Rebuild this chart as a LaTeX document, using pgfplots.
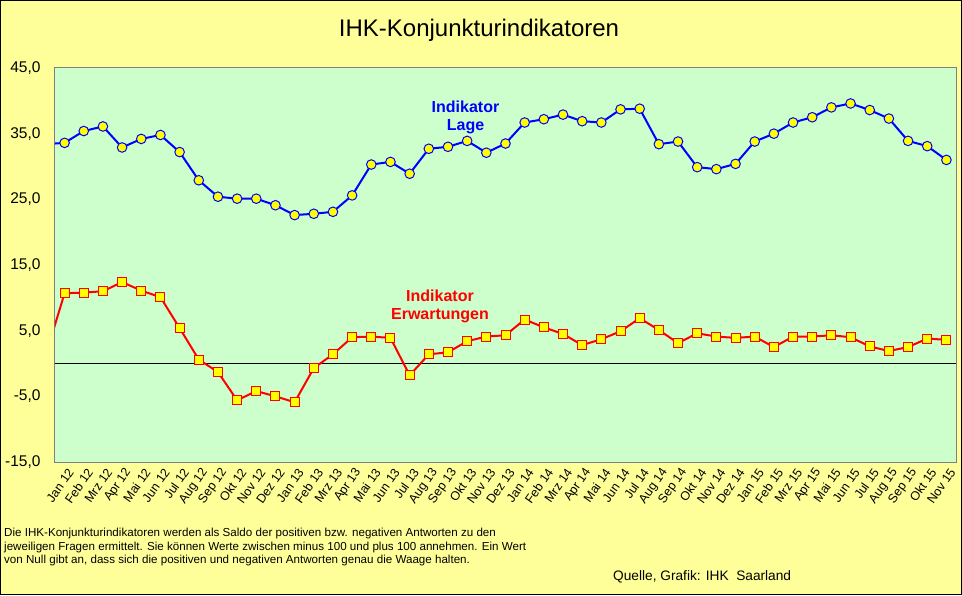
\documentclass[border=0pt]{standalone}
\usepackage{pgfplots}
\pgfplotsset{compat=1.18}
\usepackage{fontspec}
\setmainfont{Liberation Sans}
\definecolor{bgy}{HTML}{FFFF99}
\definecolor{plotg}{HTML}{CCFFCC}
\definecolor{mky}{HTML}{FFFF00}
\definecolor{axgray}{HTML}{808080}

\pgfplotstableread{
x y
-1 33.4
0 33.6
1 35.4
2 36.1
3 32.9
4 34.2
5 34.8
6 32.2
7 27.9
8 25.4
9 25.1
10 25.1
11 24.1
12 22.6
13 22.8
14 23.1
15 25.6
16 30.3
17 30.7
18 28.9
19 32.7
20 33.0
21 33.9
22 32.1
23 33.5
24 36.7
25 37.2
26 37.9
27 36.9
28 36.7
29 38.7
30 38.8
31 33.4
32 33.8
33 29.9
34 29.6
35 30.4
36 33.8
37 35.0
38 36.7
39 37.5
40 39.0
41 39.6
42 38.6
43 37.3
44 33.9
45 33.1
46 31.0
}\lage

\pgfplotstableread{
x y
-1 1.1
0 10.7
1 10.8
2 11.0
3 12.4
4 11.1
5 10.1
6 5.4
7 0.6
8 -1.3
9 -5.6
10 -4.2
11 -5.0
12 -5.9
13 -0.7
14 1.4
15 4.0
16 4.1
17 3.9
18 -1.8
19 1.4
20 1.7
21 3.4
22 4.1
23 4.3
24 6.7
25 5.5
26 4.5
27 2.8
28 3.7
29 4.9
30 6.9
31 5.1
32 3.1
33 4.6
34 4.1
35 3.9
36 4.1
37 2.5
38 4.1
39 4.1
40 4.3
41 4.0
42 2.6
43 1.9
44 2.5
45 3.8
46 3.6
}\erw

\begin{document}
\begin{tikzpicture}
\fill[bgy] (0,0) rectangle (962pt,595pt);
\draw[black,line width=1pt] (0.5pt,0.5pt) rectangle (961.5pt,594.5pt);
\begin{axis}[
  at={(55pt,133pt)}, anchor=south west,
  scale only axis, width=901pt, height=394pt,
  xmin=-0.5, xmax=46.5, ymin=-15, ymax=45,
  axis background/.style={fill=plotg},
  axis line style={draw=axgray, line width=1pt},
  major tick length=0pt,
  ytick={-15,-5,5,15,25,35,45},
  /pgf/number format/assume math mode=true,
  yticklabel style={font=\fontsize{15.5}{16}\selectfont, xshift=-11pt,
    /pgf/number format/fixed, /pgf/number format/fixed zerofill,
    /pgf/number format/precision=1, /pgf/number format/use comma},
  xtick={0,...,46},
  xticklabels={Jan 12,Feb 12,Mrz 12,Apr 12,Mai 12,Jun 12,Jul 12,Aug 12,Sep 12,Okt 12,Nov 12,Dez 12,
    Jan 13,Feb 13,Mrz 13,Apr 13,Mai 13,Jun 13,Jul 13,Aug 13,Sep 13,Okt 13,Nov 13,Dez 13,
    Jan 14,Feb 14,Mrz 14,Apr 14,Mai 14,Jun 14,Jul 14,Aug 14,Sep 14,Okt 14,Nov 14,Dez 14,
    Jan 15,Feb 15,Mrz 15,Apr 15,Mai 15,Jun 15,Jul 15,Aug 15,Sep 15,Okt 15,Nov 15},
  xticklabel style={font=\fontsize{12.5}{12.5}\selectfont, anchor=east, inner sep=1pt, xshift=7pt, yshift=-7pt, rotate=55},
]
\addplot[black, line width=1pt, forget plot] coordinates {(-0.5,0) (46.5,0)};
\addplot[blue, line width=2pt, mark=*, mark size=4.8pt,
  mark options={fill=mky, draw=blue, line width=1pt}] table[x=x,y=y] {\lage};
\addplot[red, line width=2pt, mark=square*, mark size=4.5pt,
  mark options={fill=mky, draw=red, line width=1pt}] table[x=x,y=y] {\erw};
\end{axis}
\node[font=\fontsize{24}{24}\selectfont, anchor=base] at (479pt,558pt) {IHK-Konjunkturindikatoren};
\node[font=\bfseries\fontsize{16}{16}\selectfont, text=blue, anchor=base] at (465.5pt,482.7pt) {Indikator};
\node[font=\bfseries\fontsize{16}{16}\selectfont, text=blue, anchor=base] at (465.5pt,464.3pt) {Lage};
\node[font=\bfseries\fontsize{16}{16}\selectfont, text=red, anchor=base] at (440pt,293.3pt) {Indikator};
\node[font=\bfseries\fontsize{16}{16}\selectfont, text=red, anchor=base] at (440pt,275pt) {Erwartungen};
\node[font=\fontsize{11.6}{11.6}\selectfont, anchor=base west, inner sep=0pt] at (4pt,58.3pt) {Die IHK-Konjunkturindikatoren werden als Saldo der positiven bzw. negativen Antworten zu den};
\node[font=\fontsize{11.6}{11.6}\selectfont, anchor=base west, inner sep=0pt] at (4pt,45pt) {jeweiligen Fragen ermittelt. Sie können Werte zwischen minus 100 und plus 100 annehmen. Ein Wert};
\node[font=\fontsize{11.6}{11.6}\selectfont, anchor=base west, inner sep=0pt] at (4pt,31.7pt) {von Null gibt an, dass sich die positiven und negativen Antworten genau die Waage halten.};
\node[font=\fontsize{13.7}{14}\selectfont, anchor=base west, inner sep=0pt] at (613pt,15pt) {Quelle, Grafik: IHK\ \ Saarland};
\end{tikzpicture}
\end{document}
